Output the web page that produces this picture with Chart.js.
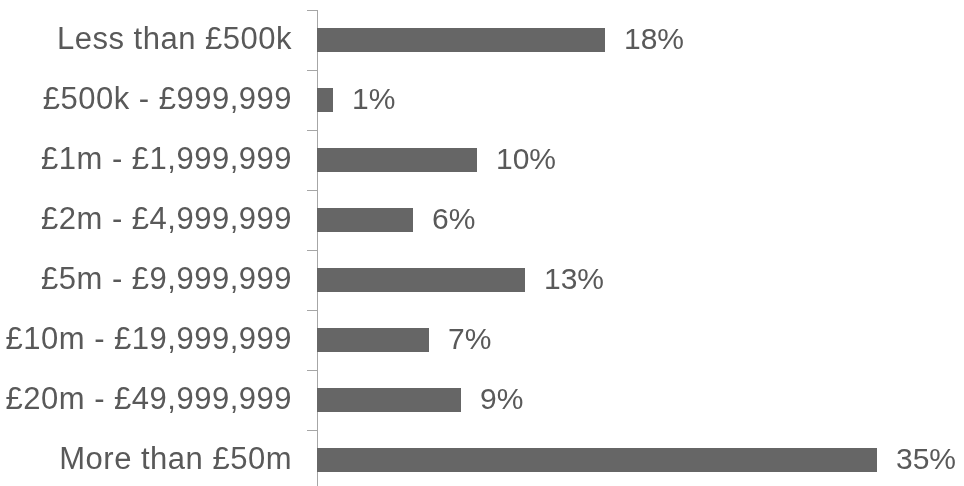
<!DOCTYPE html>
<html>
<head>
<meta charset="utf-8">
<script src="https://cdn.jsdelivr.net/npm/chart.js@4/dist/chart.umd.min.js"></script>
<style>
  html, body { margin: 0; padding: 0; background: #ffffff; overflow: hidden; }
  #chart { display: block; }
</style>
</head>
<body>
<canvas id="chart" width="964" height="500"></canvas>
<script>
// Turnover bands and share of respondents in each (%)
const bands = [
  'Less than £500k',
  '£500k - £999,999',
  '£1m - £1,999,999',
  '£2m - £4,999,999',
  '£5m - £9,999,999',
  '£10m - £19,999,999',
  '£20m - £49,999,999',
  'More than £50m'
];
const shares = [18, 1, 10, 6, 13, 7, 9, 35];

const textColor = '#595959';
const axisColor = '#a6a6a6';
const fontFamily = "'Liberation Sans', Arial, sans-serif";
const tickFont = { family: fontFamily, size: 31 };
const valueFont = { family: fontFamily, size: 30 };

// Slightly looser tracking for the category labels
const tickSpacing = {
  id: 'tickSpacing',
  beforeDraw(chart) { chart.ctx.letterSpacing = '0.5px'; },
  beforeDatasetsDraw(chart) { chart.ctx.letterSpacing = '0px'; }
};

// Writes the percentage just past the end of each bar
const valueLabels = {
  id: 'valueLabels',
  afterDatasetsDraw(chart) {
    const ctx = chart.ctx;
    const meta = chart.getDatasetMeta(0);
    ctx.save();
    ctx.font = `${valueFont.size}px ${valueFont.family}`;
    ctx.fillStyle = textColor;
    ctx.textAlign = 'left';
    ctx.textBaseline = 'middle';
    meta.data.forEach((bar, i) => {
      ctx.fillText(shares[i] + '%', bar.x + 19, bar.y + 1);
    });
    ctx.restore();
  }
};

new Chart(document.getElementById('chart'), {
  type: 'bar',
  data: {
    labels: bands,
    datasets: [{
      data: shares,
      backgroundColor: '#666666',
      borderWidth: 0,
      categoryPercentage: 1,
      barPercentage: 0.4
    }]
  },
  options: {
    indexAxis: 'y',
    responsive: false,
    animation: false,
    layout: { padding: { top: 10, bottom: 10, left: 0, right: 7 } },
    plugins: { legend: { display: false }, tooltip: { enabled: false } },
    scales: {
      x: {
        display: false,
        min: 0,
        max: 40
      },
      y: {
        afterFit(scale) {
          scale.width = 317;
          scale.paddingTop = 0;
          scale.paddingBottom = 0;
        },
        border: { display: true, color: axisColor, width: 1 },
        grid: {
          offset: true,
          drawOnChartArea: false,
          drawTicks: true,
          tickLength: 10,
          color: axisColor
        },
        ticks: {
          color: textColor,
          font: tickFont,
          padding: 15
        }
      }
    }
  },
  plugins: [tickSpacing, valueLabels]
});
</script>
</body>
</html>
